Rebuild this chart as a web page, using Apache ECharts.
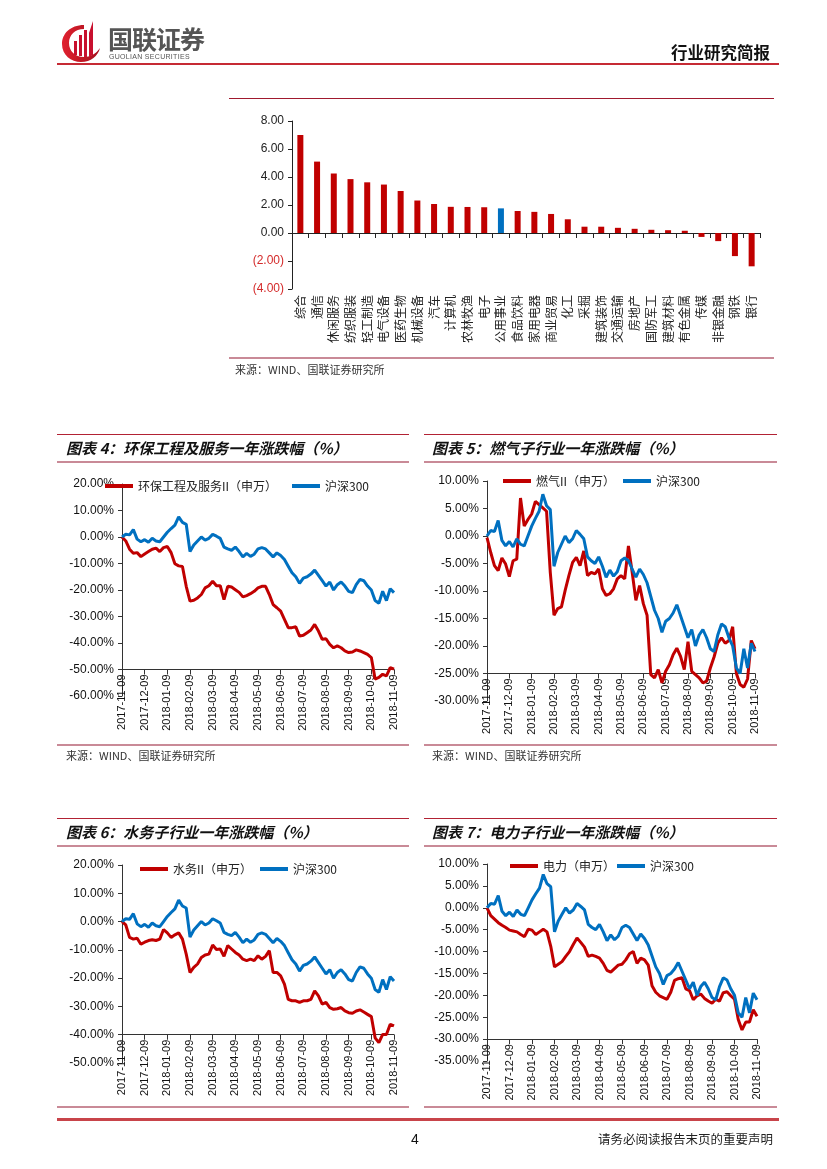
<!DOCTYPE html>
<html><head><meta charset="utf-8">
<script src="https://cdn.jsdelivr.net/npm/echarts@6.0.0/dist/echarts.min.js"></script>
<style>
html,body{margin:0;padding:0;background:#fff;}
#page{position:relative;width:827px;height:1169px;overflow:hidden;background:#fff;font-family:"Noto Sans CJK SC",sans-serif;}
#chart{position:absolute;left:0;top:0;width:827px;height:1169px;}
.t{position:absolute;white-space:nowrap;z-index:2;}
.ln{position:absolute;z-index:2;}
.title{font-weight:bold;font-style:italic;font-size:15px;color:#111;line-height:20px;height:20px;}
.src{font-size:11px;color:#333;line-height:14px;height:14px;}
</style></head>
<body><div id="page">
<div id="chart"></div>
<!-- header -->
<svg class="t" style="left:60px;top:21px" width="42" height="42" viewBox="0 0 42 42">
  <defs><linearGradient id="g" x1="0" x2="1" y1="0" y2="0"><stop offset="0" stop-color="#e0212f"/><stop offset="1" stop-color="#a50f1c"/></linearGradient></defs>
  <path d="M24 4 C10 4 2 13 2 23 C2 34 11 41 21 41 C31 41 38 35 40 27 C36 33 30 36 24 36 C15 36 9 30 9 22 C9 14 15 8 24 8 Z" fill="url(#g)"/>
  <rect x="14" y="20" width="3" height="14" fill="#c8102e"/>
  <rect x="19" y="14" width="3" height="21" fill="#c8102e"/>
  <rect x="24" y="9" width="3" height="27" fill="#c8102e"/>
  <path d="M29 36 L29 12 L33 0 L33 34 Z" fill="#c8102e"/>
</svg>
<div class="t" style="left:108px;top:25px;font-size:25px;font-weight:bold;color:#555;line-height:26px;height:26px;letter-spacing:-1px;">国联证券</div>
<div class="t" style="left:109px;top:53px;font-size:7px;color:#555;line-height:8px;height:8px;font-family:'Liberation Sans',sans-serif;letter-spacing:0.3px;">GUOLIAN SECURITIES</div>
<div class="t" style="left:671px;top:42px;font-size:16.5px;font-weight:bold;color:#111;line-height:20px;">行业研究简报</div>
<div class="ln" style="left:57px;top:63px;width:722px;height:2px;background:#c62a34;"></div>

<!-- bar chart frame -->
<div class="ln" style="left:229px;top:98px;width:545px;height:1px;background:#a0192e;"></div>
<div class="ln" style="left:229px;top:357px;width:545px;height:1.5px;background:#c98a97;"></div>
<div class="t src" style="left:235px;top:362px;">来源：WIND、国联证券研究所</div>

<!-- chart 4 / 5 frames -->
<div class="ln" style="left:57px;top:434px;width:352px;height:1px;background:#b22234;"></div>
<div class="ln" style="left:57px;top:461px;width:352px;height:2px;background:#c98a97;"></div>
<div class="t title" style="left:66px;top:438px;">图表 4：环保工程及服务一年涨跌幅（%）</div>
<div class="ln" style="left:57px;top:744px;width:352px;height:2px;background:#c98a97;"></div>
<div class="t src" style="left:66px;top:748px;">来源：WIND、国联证券研究所</div>

<div class="ln" style="left:424px;top:434px;width:353px;height:1px;background:#b22234;"></div>
<div class="ln" style="left:424px;top:461px;width:353px;height:2px;background:#c98a97;"></div>
<div class="t title" style="left:432px;top:438px;">图表 5：燃气子行业一年涨跌幅（%）</div>
<div class="ln" style="left:424px;top:744px;width:353px;height:2px;background:#c98a97;"></div>
<div class="t src" style="left:432px;top:748px;">来源：WIND、国联证券研究所</div>

<!-- chart 6 / 7 frames -->
<div class="ln" style="left:57px;top:818px;width:352px;height:1px;background:#b22234;"></div>
<div class="ln" style="left:57px;top:845px;width:352px;height:2px;background:#c98a97;"></div>
<div class="t title" style="left:66px;top:822px;">图表 6：水务子行业一年涨跌幅（%）</div>

<div class="ln" style="left:424px;top:818px;width:353px;height:1px;background:#b22234;"></div>
<div class="ln" style="left:424px;top:845px;width:353px;height:2px;background:#c98a97;"></div>
<div class="t title" style="left:432px;top:822px;">图表 7：电力子行业一年涨跌幅（%）</div>

<!-- footer -->
<div class="ln" style="left:57px;top:1106px;width:352px;height:1.5px;background:#c98a97;"></div>
<div class="ln" style="left:424px;top:1106px;width:353px;height:1.5px;background:#c98a97;"></div>
<div class="ln" style="left:57px;top:1118px;width:722px;height:2.5px;background:#c8444a;"></div>
<div class="t" style="left:411px;top:1130px;font-size:14px;color:#111;line-height:18px;font-family:'Liberation Sans',sans-serif;">4</div>
<div class="t" style="left:598px;top:1131px;font-size:12.5px;color:#222;line-height:16px;">请务必阅读报告末页的重要声明</div>
</div>
<script>
// ---------------- data ----------------
const barCats = ['综合','通信','休闲服务','纺织服装','轻工制造','电气设备','医药生物','机械设备','汽车','计算机','农林牧渔','电子','公用事业','食品饮料','家用电器','商业贸易','化工','采掘','建筑装饰','交通运输','房地产','国防军工','建筑材料','有色金属','传媒','非银金融','钢铁','银行'];
const barValues = [7.0,5.1,4.25,3.85,3.62,3.46,3.0,2.32,2.07,1.87,1.86,1.84,1.76,1.57,1.51,1.36,0.98,0.45,0.45,0.37,0.30,0.23,0.20,0.16,-0.28,-0.58,-1.65,-2.38];
const barHighlight = '公用事业';

const monthLabels = ['2017-11-09','2017-12-09','2018-01-09','2018-02-09','2018-03-09','2018-04-09','2018-05-09','2018-06-09','2018-07-09','2018-08-09','2018-09-09','2018-10-09','2018-11-09'];
const STEP = 6; // samples per month

const hs300 = [0,1.0,0.8,2.8,-0.8,-1.8,-1.0,-2.0,-0.5,-1.5,-1.8,0.0,1.8,3.2,4.5,7.6,5.5,4.8,-5.5,-3.0,-1.5,0.0,-1.2,-0.5,1.0,0.3,-0.5,-3.8,-4.5,-5.0,-3.8,-5.5,-7.5,-6.2,-7.3,-6.5,-4.5,-4.0,-4.5,-6.0,-7.5,-6.0,-7.0,-8.5,-11.0,-13.5,-15.0,-17.5,-15.5,-15.0,-14.0,-12.5,-14.5,-16.5,-18.5,-17.0,-20.0,-18.0,-17.0,-18.5,-20.5,-21.0,-18.0,-16.0,-16.5,-18.5,-20.0,-24.0,-25.0,-20.5,-24.0,-19.5,-21.0];
const huanbao = [0,-1.5,-4.6,-6.1,-5.9,-7.4,-6.4,-5.5,-4.6,-4.2,-5.5,-4.0,-3.6,-5.9,-10.1,-10.9,-11.1,-18.6,-24.2,-23.9,-23.0,-21.7,-19.2,-18.4,-16.7,-18.4,-18.4,-23.6,-18.6,-18.9,-19.9,-20.9,-22.6,-22.1,-21.4,-20.5,-19.2,-18.6,-18.6,-21.7,-25.5,-26.7,-28.0,-31.1,-34.2,-34.2,-33.9,-37.4,-37.1,-36.1,-35.1,-33.0,-35.5,-38.6,-38.4,-40.5,-41.8,-41.1,-41.8,-43.0,-43.6,-43.4,-42.6,-43.0,-43.6,-44.3,-45.5,-53.6,-53.0,-51.8,-52.4,-49.3,-49.9];
const ranqi = [-0.3,-3.0,-5.4,-6.3,-4.0,-5.1,-7.4,-4.5,-4.2,6.9,1.8,3.0,4.0,6.3,5.7,5.1,4.5,-6.6,-14.4,-13.2,-12.9,-9.9,-7.2,-4.8,-3.9,-5.4,-2.7,-7.2,-6.6,-6.9,-6.0,-9.6,-10.8,-10.5,-9.6,-7.8,-7.2,-7.8,-1.8,-6.6,-11.7,-9.0,-12.3,-14.4,-25.2,-25.8,-24.3,-26.7,-24.6,-23.4,-21.6,-20.4,-21.9,-24.3,-19.2,-24.6,-25.2,-25.8,-26.7,-26.4,-24.0,-22.0,-19.5,-18.5,-19.5,-19.0,-16.5,-25.0,-27.0,-27.5,-26.0,-19.0,-20.5];
const shuiwu = [0,-1.2,-5.6,-6.2,-5.9,-8.0,-7.3,-6.7,-6.4,-6.7,-6.2,-2.8,-4.0,-5.6,-4.7,-4.0,-6.2,-11.5,-18.0,-16.2,-15.0,-12.7,-11.8,-11.5,-8.3,-9.9,-9.7,-12.3,-8.5,-9.7,-10.9,-11.8,-13.3,-13.8,-13.3,-13.8,-12.1,-13.3,-12.3,-10.3,-18.0,-18.0,-19.2,-22.1,-27.5,-28.0,-28.0,-28.6,-28.0,-28.0,-27.5,-24.5,-26.3,-29.2,-28.6,-30.4,-31.0,-30.8,-30.4,-31.6,-32.2,-32.4,-31.6,-31.2,-32.0,-32.8,-33.6,-41.1,-42.8,-39.9,-39.9,-36.3,-36.9];
const dianli = [0,-1.8,-2.6,-3.4,-4.0,-4.5,-5.1,-5.3,-5.5,-6.1,-6.6,-4.9,-5.1,-6.1,-5.5,-4.9,-5.5,-8.8,-13.5,-12.9,-12.3,-11.1,-10.0,-8.4,-6.9,-7.9,-9.0,-11.1,-10.8,-11.1,-11.5,-12.7,-14.3,-14.7,-13.9,-13.1,-12.9,-11.9,-10.5,-10.0,-12.7,-11.5,-11.9,-13.1,-17.8,-19.3,-20.1,-20.5,-20.9,-19.3,-16.6,-16.2,-16.0,-18.5,-18.9,-21.0,-20.1,-19.7,-20.7,-21.3,-21.8,-20.9,-21.3,-19.4,-19.2,-20.1,-20.9,-25.5,-27.9,-26.1,-26.1,-23.3,-24.8];

// ---------------- styles ----------------
const RED = '#C00000', BLUE = '#0070C0';
const CJK = '"Noto Sans CJK SC", sans-serif';
const NUM = '"Liberation Sans", Arial, sans-serif';
const AX = '#333';

const lineCharts = [
  {name:'环保工程及服务II（申万）', data:huanbao, grid:{left:122, top:484, width:272, height:212}, min:-60, max:20, interval:10, cross:-50, legendX:[105,292], legendY:487},
  {name:'燃气II（申万）', data:ranqi, grid:{left:487, top:481, width:268, height:220}, min:-30, max:10, interval:5, cross:-25, legendX:[503,623], legendY:482},
  {name:'水务II（申万）', data:shuiwu, grid:{left:122, top:865, width:272, height:198}, min:-50, max:20, interval:10, cross:-40, legendX:[140,260], legendY:870},
  {name:'电力（申万）', data:dianli, grid:{left:487, top:864, width:270, height:197}, min:-35, max:10, interval:5, cross:-30, legendX:[510,617], legendY:867}
];

const toPts = arr => arr.map((v, i) => [i / STEP, v]);

const grids = [{left:292, top:121, width:468, height:168, containLabel:false}];
const xAxes = [
  {type:'category', gridIndex:0, data:barCats, position:'bottom',
   axisLine:{show:true, onZero:true, lineStyle:{color:'#222', width:1}},
   axisTick:{show:true, interval:0, length:5, lineStyle:{color:'#222'}},
   axisLabel:{show:false}, splitLine:{show:false}},
  {type:'category', gridIndex:0, data:barCats, position:'bottom',
   axisLine:{show:false, onZero:false}, axisTick:{show:false},
   axisLabel:{show:true, interval:0, rotate:90, margin:6, fontSize:12, color:'#222', fontFamily:CJK}}
];
const yAxes = [
  {type:'value', gridIndex:0, min:-4, max:8, interval:2,
   axisLine:{show:true, lineStyle:{color:'#222'}},
   axisTick:{show:true, length:4, lineStyle:{color:'#222'}},
   splitLine:{show:false},
   axisLabel:{fontSize:12, fontFamily:NUM, margin:8,
     formatter: v => v < 0 ? '(' + Math.abs(v).toFixed(2) + ')' : v.toFixed(2),
     color: v => (Number(v) < 0 ? '#d42a2a' : '#222')}}
];
const series = [
  {type:'bar', xAxisIndex:0, yAxisIndex:0, barWidth:6,
   data: barValues.map((v, i) => ({value:v, itemStyle:{color: barCats[i] === barHighlight ? BLUE : RED}}))}
];
const legends = [];

lineCharts.forEach((c, k) => {
  const gi = grids.length;
  const xi = xAxes.length;
  const yi = yAxes.length;
  grids.push(Object.assign({containLabel:false}, c.grid));
  xAxes.push({type:'value', gridIndex:gi, min:0, max:12, interval:1, position:'bottom',
    offset: -c.grid.height * (c.cross - c.min) / (c.max - c.min),
    axisLine:{show:true, onZero:false, lineStyle:{color:AX, width:1}},
    axisTick:{show:true, length:5, lineStyle:{color:AX}},
    splitLine:{show:false},
    axisLabel:{rotate:90, margin:5, fontSize:11, color:'#111', fontFamily:NUM,
      formatter: v => monthLabels[Math.round(v)] || ''}});
  yAxes.push({type:'value', gridIndex:gi, min:c.min, max:c.max, interval:c.interval,
    axisLine:{show:true, onZero:false, lineStyle:{color:AX, width:1}},
    axisTick:{show:true, length:4, lineStyle:{color:AX}},
    splitLine:{show:false},
    axisLabel:{fontSize:12, fontFamily:NUM, color:'#111', margin:8, formatter: v => v.toFixed(2) + '%'}});
  series.push({type:'line', name:c.name, xAxisIndex:xi, yAxisIndex:yi, data:toPts(c.data),
    symbol:'none', showSymbol:false, lineStyle:{color:RED, width:3}, itemStyle:{color:RED}, z:2});
  series.push({type:'line', name:'沪深300', xAxisIndex:xi, yAxisIndex:yi, data:toPts(hs300),
    symbol:'none', showSymbol:false, lineStyle:{color:BLUE, width:3}, itemStyle:{color:BLUE}, z:3});
  const lg = (name, x) => ({data:[name], left:x, top:c.legendY - 7, padding:0, itemWidth:28, itemHeight:4,
    icon:'rect', selectedMode:false, textStyle:{fontSize:12, fontFamily:CJK, color:'#222'}});
  legends.push(lg(c.name, c.legendX[0]));
  legends.push(lg('沪深300', c.legendX[1]));
});

const chart = echarts.init(document.getElementById('chart'), null, {renderer:'canvas'});
chart.setOption({
  animation:false,
  backgroundColor:'#fff',
  grid:grids, xAxis:xAxes, yAxis:yAxes, series:series, legend:legends
});
</script>
</body></html>
